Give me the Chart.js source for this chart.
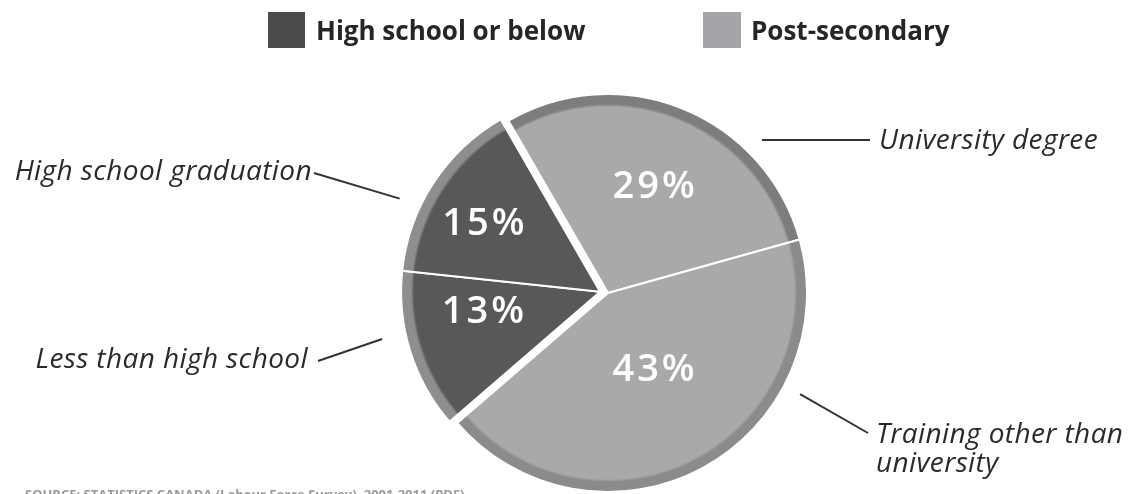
<!DOCTYPE html>
<html>
<head>
<meta charset="utf-8">
<title>Education levels</title>
<script src="https://cdn.jsdelivr.net/npm/chart.js@4.4.1/dist/chart.umd.min.js"></script>
<style>
  html, body { margin: 0; padding: 0; background: #fff; }
  #wrap { position: relative; width: 1129px; height: 494px; }
</style>
</head>
<body>
<div id="wrap"><canvas id="myChart" width="1129" height="494"></canvas></div>
<script>
// slices go clockwise starting at the HS graduation / university boundary
var labels = ['University degree', 'Training other than university', 'Less than high school', 'High school graduation'];
var values = [29, 43, 13, 15];
var valueLabels = ['29%', '43%', '13%', '15%'];
var legendLabels = ['High school or below', 'Post-secondary'];
var sourceNote = 'SOURCE: STATISTICS CANADA (Labour Force Survey), 2001-2011 (PDF)';

var fillColors = ['#a8a9ab', '#a8a9ab', '#58585a', '#58585a'];
var rimColors = ['#7c7d7f', '#8a8b8d', '#8e8e90', '#8e8e90'];
var legendColors = ['#4b4b4d', '#a4a5a9'];
var pulled = [false, false, true, true];
var pullDistance = 8;
var pieRadius = 199;

// label placement inside slices (fraction of radius, angle nudge in degrees)
var labelFrac = [0.58, 0.45, 0.60, 0.68];
var labelNudge = [0.8, -2, 7.6, -3];

// callouts: which slice, where along it, gap off the edge, text anchor
var callouts = [
    { index: 0, frac: 0.72, gap: 18, x2: 870, y2: 140, tx: 879, ty: 141, align: 'left', lines: ['University degree'] },
    { index: 1, frac: 0.28, gap: 18, x2: 868, y2: 433, tx: 876, ty: 435, align: 'left', lines: ['Training other than', 'university'] },
    { index: 2, frac: 0.61, gap: 24, x2: 318, y2: 361, tx: 308, ty: 360, align: 'right', lines: ['Less than high school'] },
    { index: 3, frac: 0.35, gap: 22, x2: 314, y2: 173, tx: 312, ty: 172, align: 'right', lines: ['High school graduation'] }
];

// the low-education slices are pulled out together, along their joint middle
function pullVec(chart, i) {
    if (!pulled[i]) {
        return { x: 0, y: 0 };
    }
    var total = 0, before = 0, span = 0;
    var first = pulled.indexOf(true);
    for (var k = 0; k < values.length; k++) {
        total += values[k];
        if (k < first) before += values[k];
        if (pulled[k]) span += values[k];
    }
    var rot = (chart.options.rotation - 90) * Math.PI / 180;
    var mid = rot + (before + span / 2) / total * Math.PI * 2;
    return { x: Math.cos(mid) * pullDistance, y: Math.sin(mid) * pullDistance };
}

function sliceFill(context) {
    var chart = context.chart;
    var area = chart.chartArea;
    var i = context.dataIndex;
    if (!area) {
        return fillColors[i];
    }
    var v = pullVec(chart, i);
    var cx = (area.left + area.right) / 2 + v.x;
    var cy = (area.top + area.bottom) / 2 + v.y;
    var g = chart.ctx.createRadialGradient(cx, cy, 0, cx, cy, pieRadius);
    g.addColorStop(0, fillColors[i]);
    g.addColorStop(0.935, fillColors[i]);
    g.addColorStop(0.95, rimColors[i]);
    g.addColorStop(1, rimColors[i]);
    return g;
}

var pullPlugin = {
    id: 'pull',
    afterDatasetsUpdate: function(chart) {
        var arcs = chart.getDatasetMeta(0).data;
        var area = chart.chartArea;
        arcs.forEach(function(arc, i) {
            var v = pullVec(chart, i);
            arc.x = (area.left + area.right) / 2 + v.x;
            arc.y = (area.top + area.bottom) / 2 + v.y;
        });
    }
};

function arcPoint(arc, angle, r) {
    return {
        x: arc.x + Math.cos(angle) * r,
        y: arc.y + Math.sin(angle) * r
    };
}

var extrasPlugin = {
    id: 'extras',
    afterDatasetsDraw: function(chart) {
        var ctx = chart.ctx;
        var arcs = chart.getDatasetMeta(0).data;

        ctx.save();
        // percentages
        ctx.fillStyle = '#ffffff';
        ctx.font = '600 38px "Open Sans"';
        ctx.letterSpacing = '3px';
        ctx.textAlign = 'center';
        ctx.textBaseline = 'middle';
        arcs.forEach(function(arc, i) {
            var mid = (arc.startAngle + arc.endAngle) / 2 + labelNudge[i] * Math.PI / 180;
            var p = arcPoint(arc, mid, arc.outerRadius * labelFrac[i]);
            ctx.fillText(valueLabels[i], p.x + 2, p.y);
        });

        // leader lines and slice names
        ctx.strokeStyle = '#333333';
        ctx.lineWidth = 2;
        ctx.fillStyle = '#2a2a2a';
        ctx.font = 'italic 28px "Open Sans"';
        ctx.letterSpacing = '0.4px';
        callouts.forEach(function(c) {
            var arc = arcs[c.index];
            var ang = arc.startAngle + c.frac * (arc.endAngle - arc.startAngle);
            var p = arcPoint(arc, ang, arc.outerRadius + c.gap);
            ctx.beginPath();
            ctx.moveTo(p.x, p.y);
            ctx.lineTo(c.x2, c.y2);
            ctx.stroke();
            ctx.textAlign = c.align;
            c.lines.forEach(function(line, k) {
                ctx.fillText(line, c.tx, c.ty + k * 29);
            });
        });
        ctx.letterSpacing = '0px';

        // legend
        ctx.font = 'bold 26px "Open Sans"';
        ctx.textAlign = 'left';
        ctx.fillStyle = legendColors[0];
        ctx.fillRect(268, 12, 37, 36);
        ctx.fillStyle = legendColors[1];
        ctx.fillRect(703, 12, 38, 36);
        ctx.fillStyle = '#262626';
        ctx.fillText(legendLabels[0], 316, 33);
        ctx.fillText(legendLabels[1], 751, 33);

        // source line, cut off at the bottom like the original
        ctx.fillStyle = '#9a9a9a';
        ctx.font = 'bold 13px "Open Sans"';
        ctx.textBaseline = 'top';
        ctx.fillText(sourceNote, 25, 489);
        ctx.restore();
    }
};

var ctx = document.getElementById('myChart');
var myChart = new Chart(ctx, {
    type: 'pie',
    data: {
        labels: labels,
        datasets: [{
            data: values,
            backgroundColor: sliceFill,
            borderColor: '#ffffff',
            borderWidth: 2
        }]
    },
    options: {
        responsive: false,
        animation: false,
        rotation: -30,
        radius: pieRadius,
        layout: { padding: { left: 187, right: 100, top: 100, bottom: 8 } },
        plugins: {
            legend: { display: false },
            tooltip: { enabled: false }
        }
    },
    plugins: [pullPlugin, extrasPlugin]
});
</script>
</body>
</html>
